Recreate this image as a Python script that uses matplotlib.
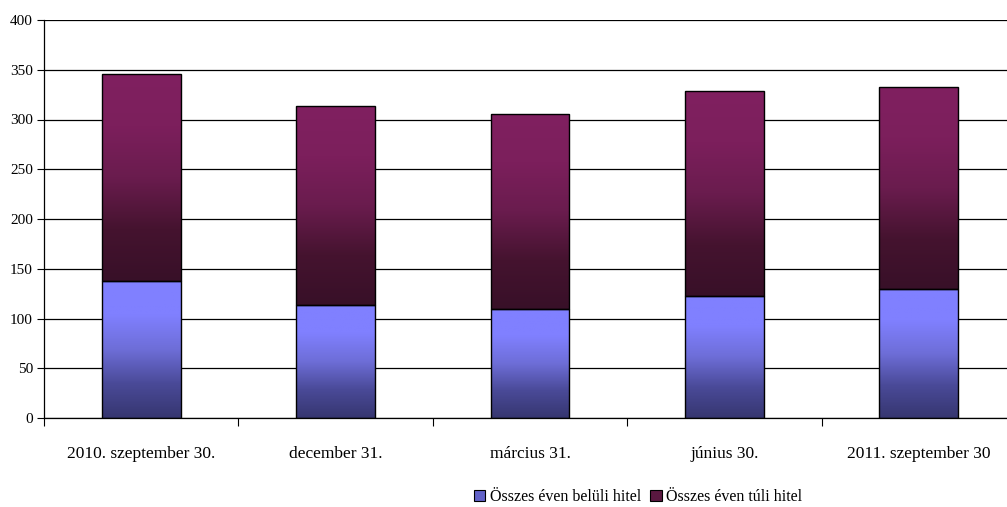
import matplotlib
matplotlib.use("Agg")
import matplotlib.pyplot as plt
import numpy as np
from matplotlib.colors import LinearSegmentedColormap
from matplotlib.patches import Patch

categories = ["2010. szeptember 30.", "december 31.", "március 31.", "június 30.", "2011. szeptember 30"]
within_year = [138, 114, 110, 123, 130]
beyond_year = [208, 200, 196, 206, 203]
series_names = ["Összes éven belüli hitel", "Összes éven túli hitel"]

plt.rcParams['font.family'] = ['Liberation Serif', 'DejaVu Serif']

# gradients bottom -> top
cmap_in = LinearSegmentedColormap.from_list("in", ["#363670", "#4a4a98", "#6e6ed8", "#8080ff", "#8080ff"])
cmap_out = LinearSegmentedColormap.from_list("out", ["#381028", "#45132f", "#6a1c4e", "#7c1f5c", "#802060"])

fig = plt.figure(figsize=(10.07, 5.07), dpi=100)
ax = fig.add_axes([44/1007, 89/507, 972/1007, 398/507])

x = np.arange(len(categories))
width = 0.405

grad = np.linspace(0, 1, 256).reshape(-1, 1)

def gradient_bars(bars, cmap):
    for b in bars:
        x0, y0 = b.get_x(), b.get_y()
        w, h = b.get_width(), b.get_height()
        im = ax.imshow(grad, cmap=cmap, origin="lower", aspect="auto",
                       extent=(x0, x0 + w, y0, y0 + h), zorder=2)
        im.set_clip_path(b)

bars_in = ax.bar(x, within_year, width, facecolor="none", edgecolor="black", linewidth=1.0, zorder=3)
bars_out = ax.bar(x, beyond_year, width, bottom=within_year, facecolor="none", edgecolor="black", linewidth=1.0, zorder=3)
gradient_bars(bars_in, cmap_in)
gradient_bars(bars_out, cmap_out)

ax.set_xlim(-0.5, len(categories) - 0.5)
ax.set_ylim(0, 400)
ax.set_yticks(np.arange(0, 401, 50))
ax.yaxis.grid(True, color="black", linewidth=0.9)
ax.set_axisbelow(True)

ax.set_xticks(np.arange(-0.5, len(categories)), labels=[""] * (len(categories) + 1))
ax.set_xticks(x, labels=categories, minor=True)
ax.tick_params(axis="x", which="major", length=6, width=0.8, direction="out")
ax.tick_params(axis="x", which="minor", length=0, pad=20, labelsize=12.5)
ax.tick_params(axis="y", length=5, width=0.8, labelsize=11, pad=3)

for s in ["top", "right"]:
    ax.spines[s].set_visible(False)
ax.spines["left"].set_linewidth(0.9)
ax.spines["bottom"].set_linewidth(0.9)

handles = [Patch(facecolor="#6262c8", edgecolor="black", linewidth=0.8),
           Patch(facecolor="#5a1840", edgecolor="black", linewidth=0.8)]
fig.legend(handles, series_names, loc="center", bbox_to_anchor=(638/1007, 1 - 497/507),
           ncol=2, frameon=False, fontsize=11.5, handlelength=0.7, handleheight=0.7,
           handletextpad=0.3, columnspacing=0.6)

fig.savefig("out.png", dpi=100)
